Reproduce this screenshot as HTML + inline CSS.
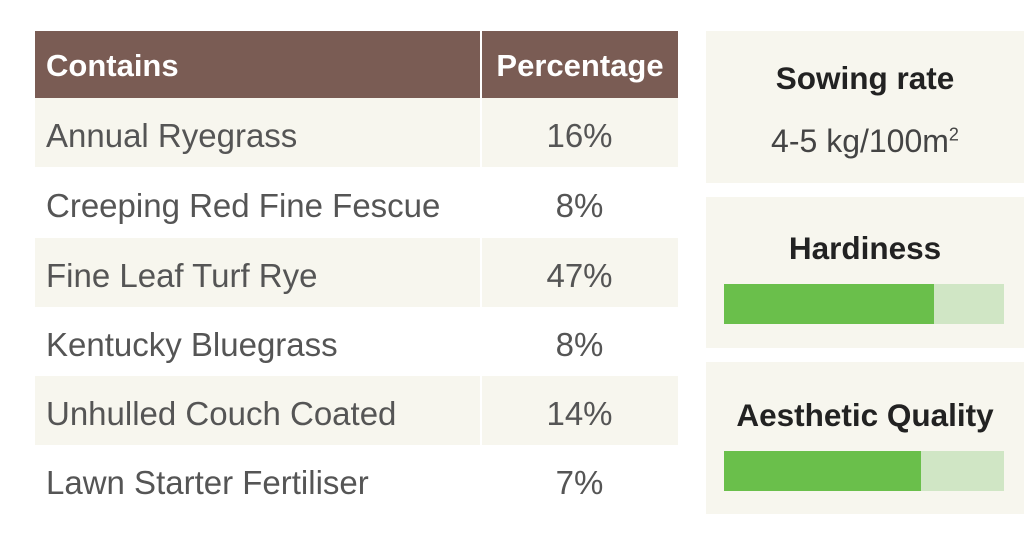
<!DOCTYPE html>
<html><head><style>
body{margin:0;width:1024px;height:533px;background:#fff;position:relative;overflow:hidden;font-family:"Liberation Sans",sans-serif}
.a{position:absolute}
.hd{background:#7a5c54;color:#fff;font-weight:bold;font-size:31px;line-height:69px}
.row{position:absolute;left:35px;width:643px;height:69px;font-size:33px;color:#555;line-height:75px}
.row.s{background:#f7f6ee}
.row .n{position:absolute;left:11px}
.row .p{position:absolute;left:446px;width:197px;text-align:center}
.card{position:absolute;left:706px;width:318px;background:#f7f6ee;text-align:center}
.t{font-size:31.5px;font-weight:bold;color:#222}
.bar{position:absolute;left:18px;width:280px;height:40px;background:#d0e6c5}
.bar div{height:40px;background:#6abf4b}
</style></head><body>
<div class="a hd" style="left:35px;top:31px;width:445px;"><span style="padding-left:11px">Contains</span></div>
<div class="a hd" style="left:482px;top:31px;width:196px;text-align:center">Percentage</div>
<div class="row s" style="top:98px"><span class="n">Annual Ryegrass</span><span class="p">16%</span></div>
<div class="row" style="top:168px"><span class="n">Creeping Red Fine Fescue</span><span class="p">8%</span></div>
<div class="row s" style="top:238px"><span class="n">Fine Leaf Turf Rye</span><span class="p">47%</span></div>
<div class="row" style="top:307px"><span class="n">Kentucky Bluegrass</span><span class="p">8%</span></div>
<div class="row s" style="top:376px"><span class="n">Unhulled Couch Coated</span><span class="p">14%</span></div>
<div class="row" style="top:445px"><span class="n">Lawn Starter Fertiliser</span><span class="p">7%</span></div>
<div class="a" style="left:480px;top:31px;width:2px;height:484px;background:#fff"></div>
<div class="card" style="top:31px;height:152px">
<div class="t" style="position:absolute;top:29px;width:100%">Sowing rate</div>
<div style="position:absolute;top:92px;width:100%;font-size:32px;color:#444">4-5 kg/100m<sup style="font-size:18px">2</sup></div>
</div>
<div class="card" style="top:197px;height:151px">
<div class="t" style="position:absolute;top:33px;width:100%">Hardiness</div>
<div class="bar" style="top:87px"><div style="width:210px"></div></div>
</div>
<div class="card" style="top:362px;height:152px">
<div class="t" style="position:absolute;top:35px;width:100%">Aesthetic Quality</div>
<div class="bar" style="top:89px"><div style="width:197px"></div></div>
</div>
</body></html>
